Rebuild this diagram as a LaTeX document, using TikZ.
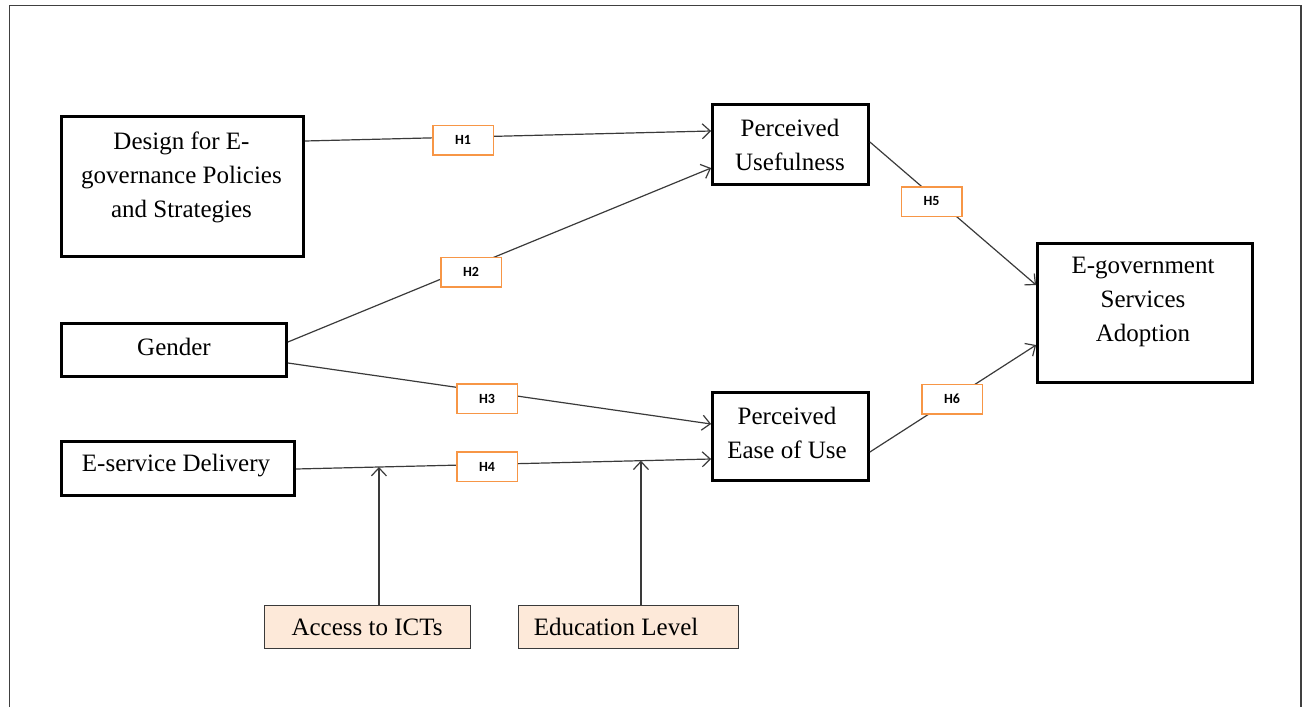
\documentclass[tikz,border=0pt]{standalone}
\usepackage{fontspec}
\setmainfont{Liberation Serif}
\newfontfamily\serifT{Liberation Serif}
\newfontfamily\hfont{Carlito}
\usetikzlibrary{arrows.meta}
\definecolor{hor}{HTML}{F79646}
\definecolor{peach}{HTML}{FDE9D9}
\definecolor{conn}{HTML}{3A3A3A}
\begin{document}
\begin{tikzpicture}[x=1pt,y=-1pt,
  thickbox/.style={draw=black,line width=3.3pt,inner sep=0pt},
  modbox/.style={draw=conn,fill=peach,line width=1.2pt,inner sep=0pt,minimum height=43pt},
  txt/.style={inner sep=0pt,align=center,font=\serifT\fontsize{25}{34}\selectfont},
  hlab/.style={draw=hor,fill=white,line width=1.5pt,minimum width=60.5pt,minimum height=29.5pt,inner sep=0pt,font=\hfont\bfseries\fontsize{14}{14}\selectfont},
  conn/.style={draw=conn,line width=1.2pt,-{Straight Barb[length=8pt,width=15pt,line width=1.2pt]}},
  plain/.style={draw=conn,line width=1.2pt}
]
\useasboundingbox (0,0) rectangle (1303,707);
% outer frame
\draw[line width=1.3pt,black!75] (9.5,707) -- (9.5,5.8) -- (1301,5.8) -- (1301,707);

% boxes
\node[thickbox,minimum width=241.5pt,minimum height=139.5pt] (design) at (182.5,186.5) {};
\node[thickbox,minimum width=155.5pt,minimum height=79.5pt] (pu) at (790.5,144.5) {};
\node[thickbox,minimum width=224.5pt,minimum height=52.5pt] (gender) at (174,350) {};
\node[thickbox,minimum width=232.5pt,minimum height=53.5pt] (esd) at (178,468.5) {};
\node[thickbox,minimum width=155.5pt,minimum height=87.5pt] (peu) at (790.5,436.5) {};
\node[thickbox,minimum width=214.5pt,minimum height=138.5pt] (egov) at (1145,313) {};
\node[modbox,minimum width=206pt] (access) at (367.5,627) {};
\node[modbox,minimum width=220pt] (edu) at (628.5,627) {};

% texts
\node[txt] (designT) at (181.5,177) {Design for E-\\governance Policies\\and Strategies};
\node[txt] (puT) at (790,145) {Perceived\\Usefulness};
\node[txt] (genderT) at (174,347) {Gender};
\node[txt] (esdT) at (176,466) {E-service Delivery};
\node[txt] (peuT) at (787,433) {Perceived\\Ease of Use};
\node[txt] (egovT) at (1143,302) {E-government\\Services\\Adoption};
\node[txt] (accessT) at (367,627) {Access to ICTs};
\node[txt] (eduT) at (616,627) {Education Level};

% connectors
\draw[conn] ([yshift=45.5pt]design.east) -- ([yshift=13.5pt]pu.west);
\draw[conn] ([yshift=8pt]gender.east) -- ([yshift=-23.5pt]pu.west);
\draw[conn] ([yshift=-13pt]gender.east) -- ([yshift=12.5pt]peu.west);
\draw[conn] ([yshift=-0.5pt]esd.east) -- coordinate[pos=0.2] (t1) coordinate[pos=0.831] (t2) ([yshift=-22.5pt]peu.west);
\draw[conn] ([yshift=2.5pt]pu.east) -- ([yshift=28pt]egov.west);
\draw[conn] ([yshift=-15.5pt]peu.east) -- ([yshift=-32pt]egov.west);
\draw[conn] (t1 |- access.north) -- (t1);
\draw[conn] (t2 |- edu.north) -- (t2);

% hypothesis labels
\node[hlab] (h1) at (463,140) {H1};
\node[hlab] (h2) at (471,272) {H2};
\node[hlab] (h3) at (487,398.5) {H3};
\node[hlab] (h4) at (487,466.5) {H4};
\node[hlab] (h5) at (931.5,201.5) {H5};
\node[hlab] (h6) at (952,399) {H6};
\end{tikzpicture}
\end{document}
